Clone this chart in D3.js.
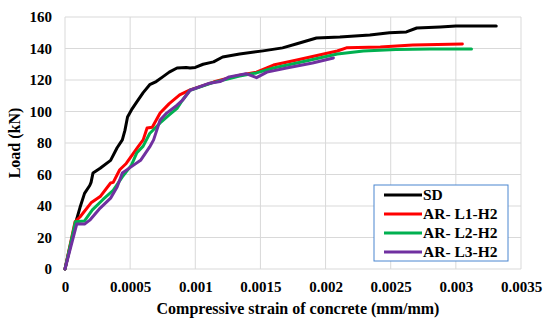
<!DOCTYPE html>
<html>
<head>
<meta charset="utf-8">
<script src="https://cdn.jsdelivr.net/npm/d3@7"></script>
<style>
  body { margin: 0; background: #fff; }
</style>
</head>
<body>
<svg class="chart" width="550" height="323"></svg>
<script>
// strain (mm/mm), load (kN) pairs
const sdStrain = [0, 0.000084, 0.000115, 0.00015, 0.00019, 0.0002, 0.000215, 0.00027, 0.00035, 0.0004, 0.00044, 0.00046, 0.00048, 0.00051, 0.00055, 0.0006, 0.00065, 0.0007, 0.00075, 0.0008, 0.00086, 0.00093, 0.00096, 0.001, 0.00106, 0.00114, 0.00121, 0.00134, 0.00152, 0.00167, 0.00178, 0.00193, 0.00211, 0.00234, 0.00249, 0.00262, 0.0027, 0.00288, 0.003, 0.00331];
const sdLoad   = [0, 30, 39, 48, 53, 55, 61, 64, 69, 77, 82, 88, 96.5, 101, 106, 112, 117, 119, 122, 125, 127.6, 128, 127.6, 128, 130, 131.5, 134.6, 136.5, 138.5, 140.4, 143, 146.7, 147.3, 148.6, 150, 150.5, 153, 153.7, 154.3, 154.3];

const l1Strain = [0, 0.000077, 0.000115, 0.0002, 0.00027, 0.00035, 0.00037, 0.00042, 0.00047, 0.00056, 0.0006, 0.00063, 0.00067, 0.00073, 0.0008, 0.00088, 0.00096, 0.00114, 0.00124, 0.00134, 0.00147, 0.0016, 0.00178, 0.00196, 0.00209, 0.00216, 0.00242, 0.00267, 0.00305];
const l1Load   = [0, 30, 33, 42, 46, 54.6, 55, 63, 67, 77.5, 82, 89.5, 90, 99, 105, 110.5, 113.7, 118.7, 121, 123, 125, 129.5, 132.7, 136, 138.4, 140.4, 141, 142.2, 142.8];

const l2Strain = [0, 0.00008, 0.00015, 0.00021, 0.00029, 0.00037, 0.00044, 0.00051, 0.00055, 0.0006, 0.00065, 0.00073, 0.0008, 0.00086, 0.0009, 0.00096, 0.00114, 0.00124, 0.00134, 0.00147, 0.0016, 0.00178, 0.00209, 0.00229, 0.00254, 0.0028, 0.00312];
const l2Load   = [0, 30, 30.5, 37.5, 44, 50, 58.5, 66, 73.6, 78, 86, 92.7, 97.8, 102, 107, 113.5, 118.5, 120.5, 122.5, 124.5, 127.6, 130.8, 136.5, 138.4, 139.4, 139.7, 139.7];

const l3Strain = [0, 0.00009, 0.00015, 0.00019, 0.00027, 0.00035, 0.0004, 0.00044, 0.00051, 0.00058, 0.00065, 0.00068, 0.00073, 0.00078, 0.00086, 0.0009, 0.00096, 0.00111, 0.00119, 0.00126, 0.00139, 0.00147, 0.00155, 0.0017, 0.0019, 0.00206];
const l3Load   = [0, 28.5, 28.5, 31, 38.7, 45, 52, 61, 65, 69, 77.5, 82, 94.6, 99, 104, 107, 113.5, 118, 119, 122, 124, 121.5, 125, 127.6, 130.8, 134];

const seriesNames = ["SD", "AR- L1-H2", "AR- L2-H2", "AR- L3-H2"];
const seriesColors = ["#000000", "#ff0000", "#00b050", "#7030a0"];
const xTicks = [0, 0.0005, 0.001, 0.0015, 0.002, 0.0025, 0.003, 0.0035];
const xTickLabels = ["0", "0.0005", "0.001", "0.0015", "0.002", "0.0025", "0.003", "0.0035"];
const yTicks = [0, 20, 40, 60, 80, 100, 120, 140, 160];

const series = [
  {strain: sdStrain, load: sdLoad},
  {strain: l1Strain, load: l1Load},
  {strain: l2Strain, load: l2Load},
  {strain: l3Strain, load: l3Load},
];

const FONT = 'Liberation Serif';
const svg = d3.select('svg.chart');
const plotL = 65, plotR = 521, plotT = 17, plotB = 269;

const x = d3.scaleLinear().domain([0, 0.0035]).range([plotL, plotR]);
const y = d3.scaleLinear().domain([0, 160]).range([plotB, plotT]);

// grid
svg.append('g')
  .selectAll('line.h')
  .data(yTicks)
  .enter()
  .append('line')
  .attr('x1', plotL).attr('x2', plotR)
  .attr('y1', d => y(d)).attr('y2', d => y(d))
  .style('stroke', '#d9d9d9').style('stroke-width', 1);

svg.append('g')
  .selectAll('line.v')
  .data(xTicks)
  .enter()
  .append('line')
  .attr('y1', plotT).attr('y2', plotB)
  .attr('x1', d => x(d)).attr('x2', d => x(d))
  .style('stroke', '#d9d9d9').style('stroke-width', 1);

// axes (labels only, the grid draws the frame)
const yAxis = svg.append('g')
  .attr('transform', `translate(${plotL},0)`)
  .call(d3.axisLeft(y).tickValues(yTicks).tickSize(0).tickPadding(13));
const xAxis = svg.append('g')
  .attr('transform', `translate(0,${plotB})`)
  .call(d3.axisBottom(x).tickValues(xTicks).tickSize(0).tickPadding(12)
    .tickFormat((d, i) => xTickLabels[i]));
[yAxis, xAxis].forEach(a => {
  a.select('.domain').remove();
  a.attr('font-family', FONT).attr('font-size', 15).attr('font-weight', 'bold');
  a.selectAll('text').attr('fill', '#000');
});

// lines
const line = d3.line()
  .x(d => x(d[0]))
  .y(d => y(d[1]));

svg.append('g')
  .selectAll('path.curve')
  .data(series)
  .enter()
  .append('path')
  .attr('class', 'curve')
  .attr('d', d => line(d.strain.map((s, i) => [s, d.load[i]])))
  .style('fill', 'none')
  .style('stroke', (d, i) => seriesColors[i])
  .style('stroke-width', 3)
  .style('stroke-linejoin', 'round')
  .style('stroke-linecap', 'round');

// axis titles
svg.append('text')
  .attr('x', 298)
  .attr('y', 314)
  .attr('text-anchor', 'middle')
  .attr('font-family', FONT).attr('font-weight', 'bold').attr('font-size', 16)
  .text('Compressive strain of concrete (mm/mm)');

svg.append('text')
  .attr('transform', 'translate(20,143) rotate(-90)')
  .attr('text-anchor', 'middle')
  .attr('font-family', FONT).attr('font-weight', 'bold').attr('font-size', 16)
  .text('Load (kN)');

// legend
const legend = svg.append('g').attr('class', 'legend');
legend.append('rect')
  .attr('x', 374).attr('y', 185)
  .attr('width', 134).attr('height', 76)
  .style('fill', '#fff')
  .style('stroke', '#4a86d0')
  .style('stroke-width', 1);

const items = legend.selectAll('g.item')
  .data(seriesNames)
  .enter()
  .append('g')
  .attr('class', 'item')
  .attr('transform', (d, i) => `translate(0,${195 + i * 19})`);

items.append('line')
  .attr('x1', 384).attr('x2', 422)
  .attr('y1', 0).attr('y2', 0)
  .style('stroke', (d, i) => seriesColors[i])
  .style('stroke-width', 3);

items.append('text')
  .attr('x', 423)
  .attr('y', 5)
  .attr('font-family', FONT).attr('font-weight', 'bold').attr('font-size', 15.5)
  .text(d => d);
</script>
</body>
</html>
